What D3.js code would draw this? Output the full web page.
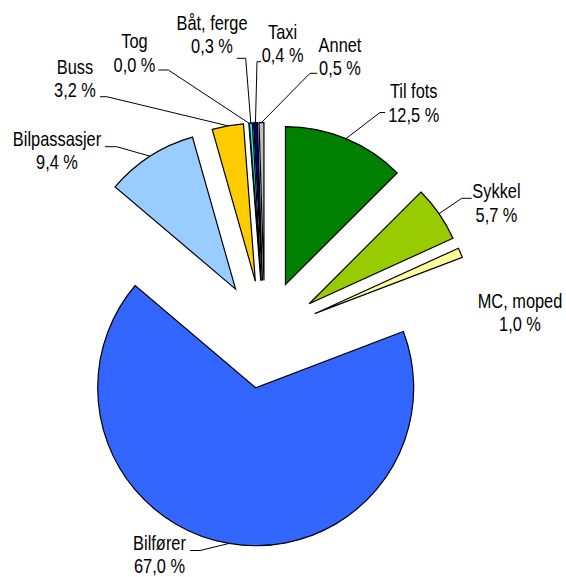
<!DOCTYPE html>
<html>
<head>
    <meta charset="utf-8" />
    <title>Reisemiddel - andel av turer</title>
    <script src="https://cdn.jsdelivr.net/npm/d3@7"></script>
    <style>
        body {
            margin: 0;
            padding: 0;
            background: #fff;
        }
        .slice {
            stroke: #000;
            stroke-width: 1.2px;
            stroke-linejoin: miter;
        }
        .leader {
            fill: none;
            stroke: #000;
            stroke-width: 1px;
        }
        .lbl {
            font: 20px "Liberation Sans", Arial, sans-serif;
            fill: #000;
        }
    </style>
</head>
<body>
<svg id="chart" width="566" height="577"></svg>
<script>
// data
var categories = ["Til fots", "Sykkel", "MC, moped", "Bilfører", "Bilpassasjer",
                  "Buss", "Tog", "Båt, ferge", "Taxi", "Annet"];
var shares = [12.5, 5.7, 1.0, 67.0, 9.4, 3.2, 0.0, 0.3, 0.4, 0.5];
var sliceColors = ["#008000", "#99cc00", "#ffff99", "#3366ff", "#99ccff",
                   "#ffcc00", "#ffffff", "#00ffff", "#000080", "#c0c0c0"];

// layout (label anchor = centre x / first baseline, leader = horizontal stub near label)
var labelPos = [[413.7, 98.3], [496.5, 198.3], [520, 308], [159.5, 550], [57, 146],
                [75, 74], [134.5, 48.3], [212, 30], [282.6, 38.5], [340, 51.7]];
var leaderStub = [[385, 380, 112.5], [471.7, 461.7, 198.3], null, [190, 200, 550.5],
                  [105, 116.7, 146.7], [100, 106.7, 96.7], [158.3, 168.3, 70],
                  [236.7, 245.7, 58.3], [261, 257, 61.7], [317.3, 310, 73.3]];

var cx = 264.8, cy = 334.5, radius = 158, explode = 54, lineGap = 23.5;

var svg = d3.select("#chart");
var g = svg.append("g").attr("transform", "translate(" + cx + "," + cy + ")");

var pie = d3.pie().sort(null).value(function(d) { return d; })
    .startAngle(0).endAngle(2 * Math.PI);
var arcs = pie(shares);
var arc = d3.arc().innerRadius(0).outerRadius(radius);

function midAngle(d) {
  // Tog has zero width; its leader goes to its edge
  return (d.startAngle + d.endAngle) / 2;
}
function offset(d, dist) {
  var a = midAngle(d);
  return [Math.sin(a) * dist, -Math.cos(a) * dist];
}

// slices
g.selectAll("path.slice")
    .data(arcs)
    .enter().append("path")
    .attr("class", "slice")
    .attr("transform", function(d) {
      var o = offset(d, explode);
      return "translate(" + o[0] + "," + o[1] + ")";
    })
    .attr("fill", function(d, i) { return sliceColors[i]; })
    .attr("d", arc);

// leader lines
arcs.forEach(function(d, i) {
  var s = leaderStub[i];
  if (!s) return;
  var o = offset(d, explode + radius);
  var end = [cx + o[0], cy + o[1]];
  svg.append("path")
      .attr("class", "leader")
      .attr("d", d3.line()([[s[0], s[2]], [s[1], s[2]], end]));
});

// labels
function fmt(v) { return v.toFixed(1).replace(".", ",") + " %"; }

categories.forEach(function(c, i) {
  var p = labelPos[i];
  var t = svg.append("g")
      .attr("transform", "translate(" + p[0] + "," + p[1] + ") scale(0.82,1)");
  t.append("text").attr("class", "lbl")
      .attr("text-anchor", "middle")
      .text(c);
  t.append("text").attr("class", "lbl")
      .attr("text-anchor", "middle")
      .attr("y", lineGap)
      .text(fmt(shares[i]));
});
</script>
</body>
</html>
